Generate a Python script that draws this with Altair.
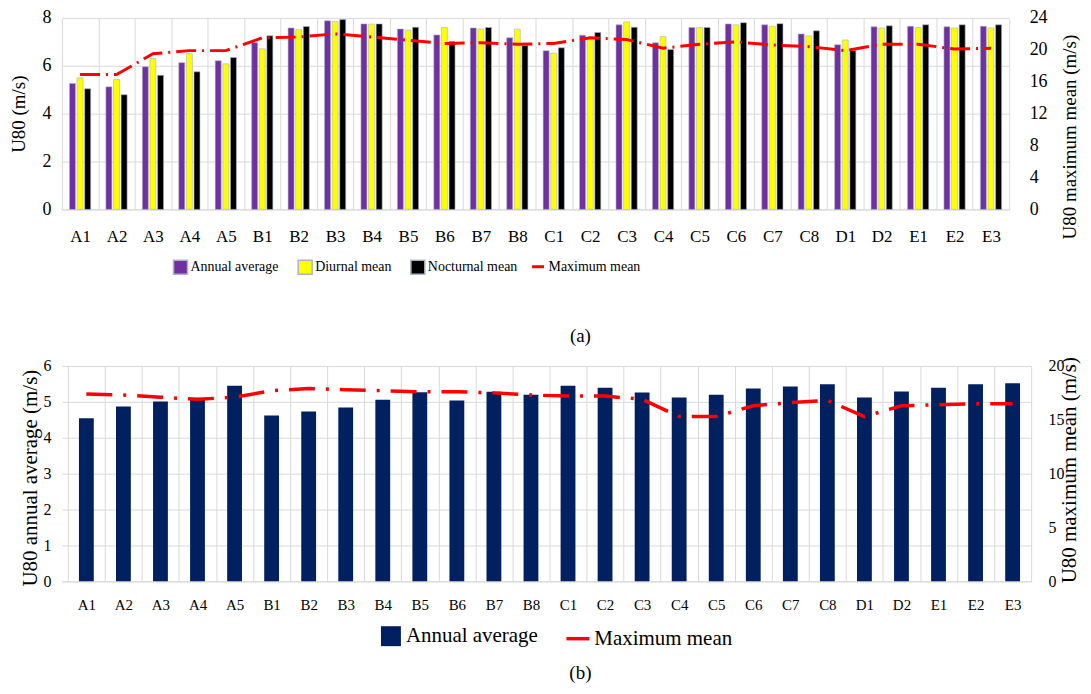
import altair as alt
import pandas as pd

sites = ["A1", "A2", "A3", "A4", "A5", "B1", "B2", "B3", "B4", "B5", "B6", "B7", "B8",
         "C1", "C2", "C3", "C4", "C5", "C6", "C7", "C8", "D1", "D2", "E1", "E2", "E3"]
series_a = ["Annual average", "Diurnal mean", "Nocturnal mean"]

annual_a = [5.26, 5.12, 5.96, 6.13, 6.21, 6.97, 7.58, 7.88, 7.75, 7.54, 7.29, 7.58, 7.17,
            6.63, 7.28, 7.71, 6.96, 7.60, 7.75, 7.71, 7.33, 6.88, 7.63, 7.65, 7.63, 7.65]
diurnal_a = [5.50, 5.43, 6.30, 6.51, 6.08, 6.71, 7.51, 7.85, 7.74, 7.49, 7.60, 7.54, 7.53,
             6.53, 7.15, 7.83, 7.22, 7.60, 7.71, 7.65, 7.25, 7.08, 7.58, 7.60, 7.58, 7.58]
nocturnal_a = [5.04, 4.79, 5.60, 5.75, 6.35, 7.25, 7.64, 7.93, 7.75, 7.61, 7.01, 7.60, 6.85,
               6.75, 7.39, 7.61, 6.68, 7.60, 7.80, 7.76, 7.46, 6.64, 7.67, 7.71, 7.71, 7.71]
maxmean_a = [16.9, 16.9, 19.5, 19.9, 19.9, 21.5, 21.6, 22.0, 21.6, 21.2, 20.8, 20.9, 20.7,
             20.8, 21.5, 21.3, 20.2, 20.7, 21.0, 20.6, 20.4, 19.9, 20.7, 20.7, 20.1, 20.2]

annual_b = [4.54, 4.87, 5.01, 5.09, 5.45, 4.62, 4.73, 4.84, 5.06, 5.27, 5.04, 5.28, 5.20,
            5.45, 5.39, 5.26, 5.12, 5.20, 5.37, 5.43, 5.49, 5.12, 5.29, 5.39, 5.49, 5.52]
maxmean_b = [17.4, 17.3, 17.1, 16.9, 17.1, 17.7, 17.9, 17.8, 17.7, 17.6, 17.6, 17.5, 17.3,
             17.2, 17.2, 16.9, 15.3, 15.3, 16.3, 16.6, 16.8, 15.3, 16.3, 16.4, 16.5, 16.5]

FONT = "Liberation Serif"
GRID = "#d9d9d9"
n = len(sites)

bars_a_df = pd.DataFrame({
    "site": sites * 3,
    "series": [s for s in series_a for _ in sites],
    "value": annual_a + diurnal_a + nocturnal_a,
})
line_a_df = pd.DataFrame({"site": sites, "value": maxmean_a, "series": ["Maximum mean"] * n})
bars_b_df = pd.DataFrame({"site": sites, "value": annual_b, "series": ["Annual average"] * n})
line_b_df = pd.DataFrame({"site": sites, "value": maxmean_b, "series": ["Maximum mean"] * n})


def x_enc(label_size, label_pad, scale):
    return alt.X(
        "site:N", sort=sites, title=None, scale=scale,
        axis=alt.Axis(labelAngle=0, tickBand="extent", ticks=False, tickSize=0, grid=True,
                      gridColor=GRID, domainColor=GRID, labelFont=FONT,
                      labelFontSize=label_size, labelPadding=label_pad, labelColor="black"),
    )


def y_axis(title, values, label_size, label_pad, title_size, title_x, title_y, right=False):
    kw = dict(title=title, values=values, domain=False, ticks=False, tickSize=0,
              labelFont=FONT, labelFontSize=label_size, labelPadding=label_pad,
              labelColor="black", titleFont=FONT, titleFontSize=title_size,
              titleFontWeight="normal", titleColor="black", titleAngle=270,
              titleBaseline="middle", titleAlign="center", titleX=title_x, titleY=title_y)
    if right:
        kw.update(orient="right", grid=False)
    else:
        kw.update(grid=True, gridColor=GRID)
    return alt.Axis(**kw)


def solid_stroke_legend(x, y, size, width, fsize):
    return alt.Legend(title=None, orient="none", legendX=x, legendY=y,
                      symbolType="stroke", symbolSize=size, symbolStrokeWidth=width,
                      symbolDash=[1, 0], labelFont=FONT, labelFontSize=fsize,
                      labelColor="black", labelOffset=3, padding=0)


# ---------- (a) ----------
scale_a = alt.Scale(paddingInner=0, paddingOuter=0)
bars_a = alt.Chart(bars_a_df).mark_bar(stroke="#aab4c6", strokeWidth=0.6).encode(
    x=x_enc(17, 19, scale_a),
    xOffset=alt.XOffset("series:N", sort=series_a,
                        scale=alt.Scale(paddingInner=0.213, paddingOuter=1.0)),
    y=alt.Y("value:Q", scale=alt.Scale(domain=[0, 8]),
            axis=y_axis("U80 (m/s)", [0, 2, 4, 6, 8], 18, 11, 19, -43, 96)),
    color=alt.Color("series:N", sort=series_a,
                    scale=alt.Scale(domain=series_a, range=["#7030A0", "#FFFF00", "#000000"]),
                    legend=alt.Legend(title=None, orient="none", legendX=111, legendY=242,
                                      direction="horizontal", symbolType="square",
                                      symbolSize=196, labelFont=FONT, labelFontSize=14,
                                      labelColor="black", labelOffset=2, columnPadding=16,
                                      gridAlign="none", padding=0)),
)
line_a = alt.Chart(line_a_df).mark_line(strokeWidth=3).encode(
    x=alt.X("site:N", sort=sites),
    y=alt.Y("value:Q", scale=alt.Scale(domain=[0, 24]),
            axis=y_axis("U80 maximum mean (m/s)", [0, 4, 8, 12, 16, 20, 24], 18, 20, 19,
                        60, 119, right=True)),
    stroke=alt.Stroke("series:N", scale=alt.Scale(domain=["Maximum mean"], range=["#FF0000"]),
                      legend=solid_stroke_legend(470, 242, 144, 3, 14)),
    strokeDash=alt.StrokeDash("series:N",
                              scale=alt.Scale(domain=["Maximum mean"], range=[[20, 6, 2, 6]]),
                              legend=None),
)
top = alt.layer(bars_a, line_a).resolve_scale(y="independent").properties(
    width=950, height=192,
    title=alt.TitleParams("(a)", orient="bottom", anchor="middle", frame="group",
                          font=FONT, fontSize=19, fontWeight="normal", color="black",
                          offset=50, dx=45),
)

# ---------- (b) ----------
scale_b = alt.Scale(paddingInner=0, paddingOuter=0.0808, align=1)
bars_b = alt.Chart(bars_b_df).mark_bar(width=alt.RelativeBandSize(0.4)).encode(
    x=x_enc(15, 16, scale_b),
    y=alt.Y("value:Q", scale=alt.Scale(domain=[0, 6]),
            axis=y_axis("U80 annual average (m/s)", [0, 1, 2, 3, 4, 5, 6], 16, 11, 21,
                        -31, 112)),
    color=alt.Color("series:N", scale=alt.Scale(domain=["Annual average"], range=["#002060"]),
                    legend=alt.Legend(title=None, orient="none", legendX=319, legendY=260,
                                      symbolType="square", symbolSize=400, labelFont=FONT,
                                      labelFontSize=21, labelColor="black", labelOffset=4,
                                      padding=0)),
)
line_b = alt.Chart(line_b_df).mark_line(strokeWidth=3.5).encode(
    x=alt.X("site:N", sort=sites),
    y=alt.Y("value:Q", scale=alt.Scale(domain=[0, 20]),
            axis=y_axis("U80 maximum mean (m/s)", [0, 5, 10, 15, 20], 16, 17, 21,
                        38, 104, right=True)),
    stroke=alt.Stroke("series:N", scale=alt.Scale(domain=["Maximum mean"], range=["#FF0000"]),
                      legend=solid_stroke_legend(504, 260, 529, 3.5, 21)),
    strokeDash=alt.StrokeDash("series:N",
                              scale=alt.Scale(domain=["Maximum mean"], range=[[26, 11, 3, 11]]),
                              legend=None),
)
bottom = alt.layer(bars_b, line_b).resolve_scale(y="independent").properties(
    width=972, height=216,
    title=alt.TitleParams("(b)", orient="bottom", anchor="middle", frame="group",
                          font=FONT, fontSize=19, fontWeight="normal", color="black",
                          offset=15, dx=34),
)

chart = alt.vconcat(top, bottom, spacing=10).resolve_scale(
    color="independent", stroke="independent", strokeDash="independent"
).configure(font=FONT).configure_axis(labelFont=FONT, titleFont=FONT).configure_legend(
    labelFont=FONT
).configure_view(stroke=None).properties(
    padding={"left": 2, "top": 0, "right": 4, "bottom": 0})

chart.save("out.html", embed_options={"renderer": "svg", "actions": False})
